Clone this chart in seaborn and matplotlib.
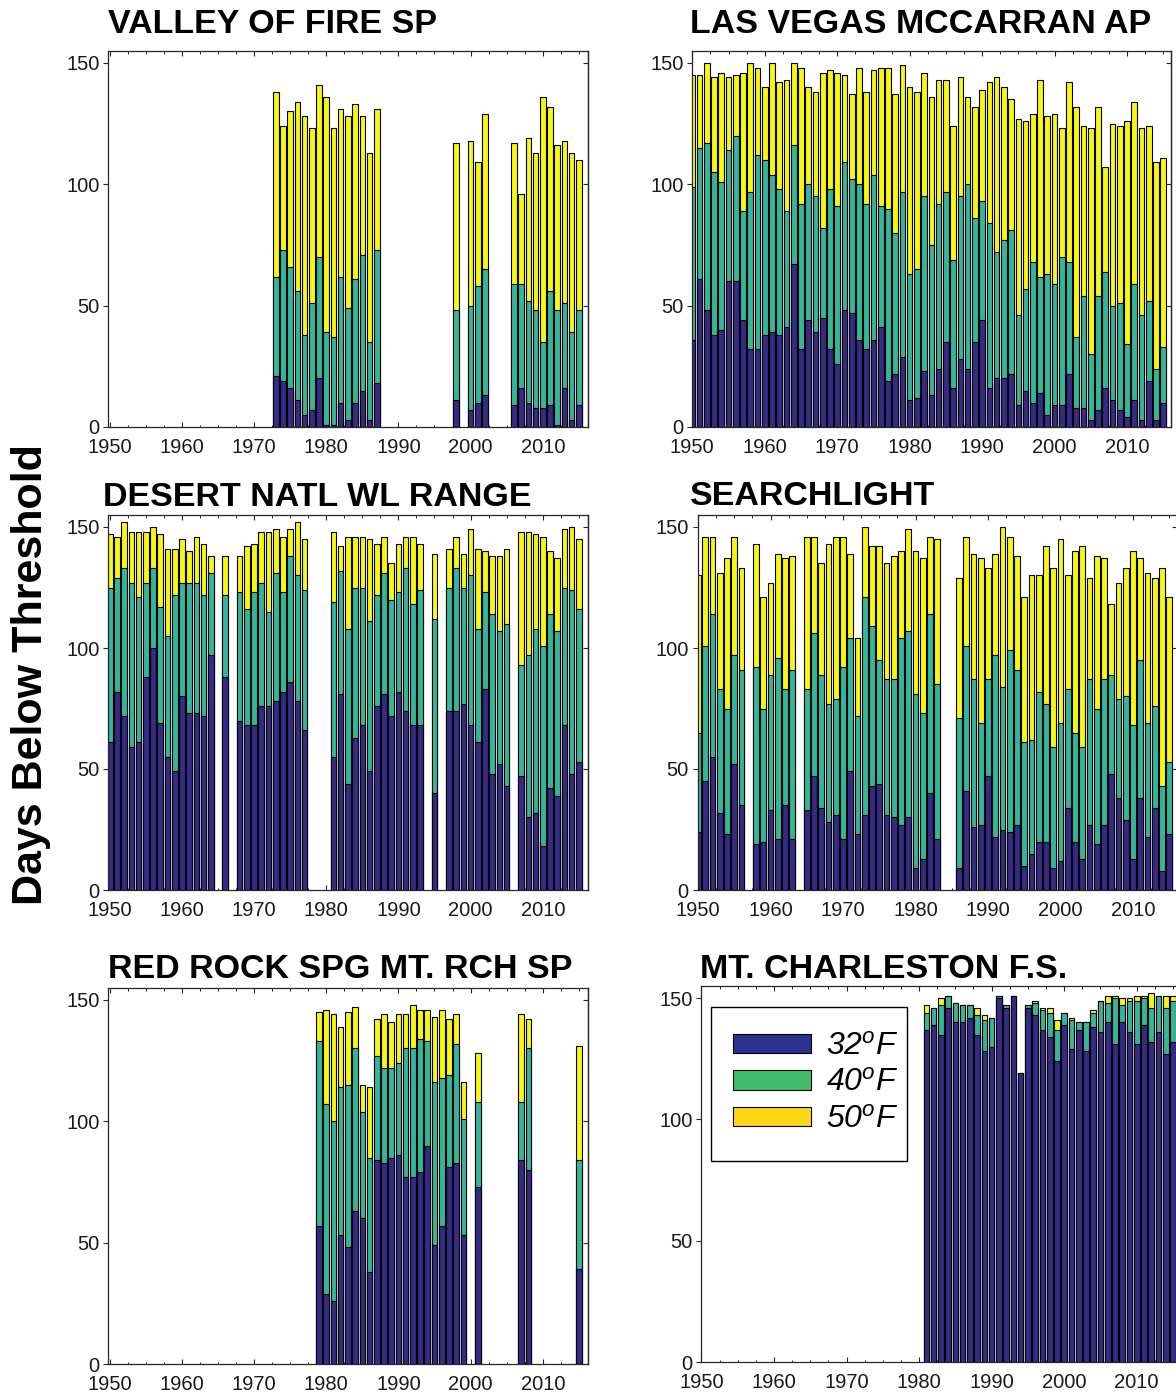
import matplotlib
matplotlib.use('Agg')
import matplotlib.pyplot as plt
import seaborn as sns
from matplotlib.patches import Patch, Rectangle
from matplotlib.ticker import MultipleLocator, FixedLocator

# ---------------- DATA (days below threshold) ----------------
# Valley of Fire SP
vf_years = list(range(1973, 1988)) + [1998, 2000, 2001, 2002] + list(range(2006, 2016))
vf_50 = [138, 124, 130, 134, 128, 123, 141, 136, 123, 131, 128, 133, 128, 113, 131,
         117, 118, 109, 129,
         117, 96, 119, 113, 136, 132, 116, 118, 113, 110]
vf_40 = [62, 73, 66, 56, 38, 51, 70, 39, 37, 62, 49, 61, 71, 35, 73,
         48, 50, 58, 65,
         59, 59, 52, 48, 35, 56, 48, 51, 39, 48]
vf_32 = [21, 19, 16, 11, 5, 7, 20, 1, 1, 10, 3, 10, 15, 3, 18,
         11, 7, 10, 13,
         9, 16, 10, 8, 8, 9, 1, 16, 3, 9]

# Las Vegas McCarran AP
lv_years = list(range(1950, 2016))
lv_50 = [145, 145, 150, 144, 146, 144, 145, 146, 150, 148,
         140, 150, 142, 143, 150, 148, 140, 138, 146, 147,
         146, 145, 137, 148, 138, 147, 148, 148, 137, 149,
         140, 138, 146, 136, 143, 143, 124, 144, 136, 132,
         139, 142, 144, 140, 135, 127, 126, 129, 143, 128,
         129, 123, 142, 132, 124, 123, 132, 107, 125, 124,
         126, 134, 123, 124, 109, 111]
lv_40 = [99, 115, 117, 105, 101, 114, 120, 89, 97, 112,
         110, 104, 98, 89, 116, 92, 100, 95, 82, 98,
         91, 109, 102, 100, 92, 104, 91, 90, 80, 97,
         63, 65, 95, 75, 92, 97, 69, 95, 100, 86,
         93, 84, 72, 77, 81, 46, 57, 68, 62, 63,
         59, 70, 68, 37, 54, 30, 54, 64, 50, 51,
         34, 59, 46, 52, 24, 33]
lv_32 = [36, 61, 48, 38, 40, 60, 60, 44, 32, 32,
         38, 39, 38, 41, 67, 32, 44, 39, 45, 32,
         26, 48, 47, 36, 32, 36, 41, 19, 22, 29,
         11, 12, 23, 13, 24, 35, 16, 28, 24, 35,
         44, 16, 20, 20, 22, 9, 15, 10, 14, 5,
         9, 9, 22, 8, 8, 3, 7, 16, 11, 7,
         4, 11, 3, 19, 3, 10]

# Desert Natl WL Range
dn_years = (list(range(1950, 1965)) + [1966] + list(range(1968, 1978)) +
            list(range(1981, 1994)) + [1995] + list(range(1997, 2006)) + list(range(2007, 2016)))
dn_50 = [147, 146, 152, 148, 148, 148, 150, 147, 141, 141, 145, 140, 146, 143, 138,
         138,
         138, 142, 143, 148, 148, 149, 146, 149, 152, 145,
         148, 142, 146, 146, 146, 145, 143, 146, 135, 143, 146, 146, 143,
         139,
         141, 146, 139, 149, 141, 140, 138, 138, 141,
         148, 148, 147, 146, 140, 137, 149, 150, 145]
dn_40 = [125, 129, 133, 127, 121, 127, 133, 117, 105, 122, 127, 127, 127, 122, 131,
         122,
         123, 116, 123, 127, 115, 131, 123, 138, 130, 124,
         119, 132, 108, 125, 125, 111, 122, 131, 120, 123, 133, 118, 124,
         112,
         125, 133, 125, 130, 108, 123, 114, 107, 110,
         93, 97, 108, 101, 114, 107, 125, 124, 116]
dn_32 = [61, 82, 72, 59, 61, 88, 100, 69, 55, 49, 80, 73, 73, 72, 97,
         88,
         70, 68, 68, 76, 76, 78, 82, 86, 78, 66,
         55, 81, 44, 63, 68, 49, 76, 81, 72, 82, 74, 68, 68,
         40,
         74, 74, 77, 68, 61, 83, 48, 52, 43,
         47, 30, 32, 18, 42, 39, 68, 48, 53]

# Searchlight
sl_years = (list(range(1950, 1957)) + list(range(1958, 1964)) +
            list(range(1965, 1984)) + list(range(1986, 2016)))
sl_50 = [130, 146, 146, 131, 137, 146, 133,
         143, 121, 127, 139, 137, 138,
         146, 146, 135, 143, 146, 146, 139, 104, 150, 142, 142, 135, 138, 140, 149, 140, 137, 146, 145,
         129, 146, 139, 137, 133, 139, 150, 146, 138, 121, 130, 130, 142, 133, 145,
         130, 140, 142, 129, 138, 137, 118, 127, 133, 140, 137, 131, 129, 133, 121]
sl_40 = [65, 101, 114, 83, 75, 97, 91,
         92, 75, 89, 96, 83, 91,
         83, 106, 89, 77, 79, 92, 104, 72, 121, 109, 95, 87, 87, 104, 107, 81, 73, 114, 85,
         71, 101, 87, 69, 87, 97, 84, 99, 91, 61, 62, 82, 77, 59, 69,
         83, 65, 59, 87, 75, 87, 89, 79, 80, 68, 95, 69, 76, 43, 53]
sl_32 = [24, 45, 55, 32, 23, 52, 35,
         19, 20, 33, 21, 35, 21,
         33, 47, 34, 28, 31, 21, 49, 23, 31, 43, 44, 31, 30, 27, 30, 9, 13, 40, 21,
         9, 41, 26, 27, 47, 22, 25, 24, 27, 10, 15, 20, 20, 9, 12,
         34, 20, 13, 27, 19, 27, 48, 38, 29, 13, 38, 22, 34, 8, 23]

# Red Rock Spg Mt. Rch SP
rr_years = list(range(1979, 2000)) + [2001, 2007, 2008, 2015]
rr_50 = [145, 146, 144, 139, 145, 147, 115, 114, 142, 144, 141, 144, 144, 148, 146, 146,
         143, 146, 142, 144, 116, 128, 144, 142, 131]
rr_40 = [133, 107, 100, 114, 115, 130, 104, 85, 127, 122, 122, 124, 130, 130, 134, 133,
         116, 118, 119, 132, 101, 108, 108, 130, 84]
rr_32 = [57, 29, 26, 53, 48, 63, 60, 38, 84, 83, 85, 86, 77, 77, 79, 90,
         49, 57, 81, 83, 53, 73, 84, 80, 39]

# Mt. Charleston F.S.
mc_years = list(range(1981, 2016))
mc_50 = [147, 146, 150, 151, 148, 147, 147, 146, 143, 142,
         151, 147, 151, 119, 147, 149, 146, 146, 141, 144,
         142, 140, 140, 145, 149, 151, 151, 150, 150, 151,
         151, 152, 151, 151, 151]
mc_40 = [144, 146, 147, 151, 148, 147, 147, 143, 141, 142,
         151, 147, 151, 119, 147, 148, 145, 144, 137, 144,
         141, 140, 140, 144, 149, 148, 150, 147, 149, 149,
         150, 146, 151, 146, 149]
mc_32 = [137, 139, 135, 146, 140, 140, 142, 135, 128, 130,
         150, 146, 151, 119, 146, 143, 137, 134, 124, 139,
         129, 137, 128, 138, 136, 140, 131, 140, 136, 131,
         139, 132, 136, 127, 132]

titles = ["VALLEY OF FIRE SP", "LAS VEGAS MCCARRAN AP", "DESERT NATL WL RANGE",
          "SEARCHLIGHT", "RED ROCK SPG MT. RCH SP", "MT. CHARLESTON F.S."]
legend_labels = [r"32$^{o}$F", r"40$^{o}$F", r"50$^{o}$F"]
y_label = "Days Below Threshold"
x_ticks = [1950, 1960, 1970, 1980, 1990, 2000, 2010]
y_ticks = [0, 50, 100, 150]

# ---------------- STYLE ----------------
sns.set_theme(style="white")
plt.rcParams['font.family'] = ['Liberation Sans', 'DejaVu Sans']
plt.rcParams['mathtext.fontset'] = 'custom'
plt.rcParams['mathtext.rm'] = 'Liberation Sans:italic'
plt.rcParams['mathtext.it'] = 'Liberation Sans:italic'

C32, C40, C50 = '#352a87', '#33b69a', '#f8f80f'
L32, L40, L50 = '#2e3191', '#3fbc6c', '#fcd817'
AXC = '#262626'

W, H = 1176, 1397
fig = plt.figure(figsize=(W / 100, H / 100), dpi=100)

# (data, left px, right px, top px, bottom px, xlim, title x px, title baseline px)
panels = [
    ((vf_years, vf_32, vf_40, vf_50), 108.3, 588, 50.8, 427, (1949.8, 2016.27), 108, 33),
    ((lv_years, lv_32, lv_40, lv_50), 692.3, 1171, 50.8, 427, (1950.0, 2016.07), 690, 33),
    ((dn_years, dn_32, dn_40, dn_50), 108.3, 588, 514.9, 890, (1949.8, 2016.27), 103, 506),
    ((sl_years, sl_32, sl_40, sl_50), 697.5, 1177, 514.9, 890, (1949.93, 2016.07), 690, 505),
    ((rr_years, rr_32, rr_40, rr_50), 108.3, 588, 987.8, 1364, (1949.8, 2016.27), 108, 978),
    ((mc_years, mc_32, mc_40, mc_50), 701.2, 1181, 986, 1362, (1949.97, 2016.1), 700, 978),
]

axes = []
for i, (data, l, r, t, b, xl, tx, ty) in enumerate(panels):
    yrs, d32, d40, d50 = data
    ax = fig.add_axes([l / W, 1 - b / H, (r - l) / W, (b - t) / H])
    for vals, col in ((d50, C50), (d40, C40), (d32, C32)):
        sns.barplot(x=yrs, y=vals, native_scale=True, orient='x', color=col,
                    saturation=1, width=0.78, edgecolor='black', linewidth=0.8,
                    errorbar=None, ax=ax)
    ax.set_xlim(*xl)
    ax.set_ylim(0, 155)
    ax.set_xlabel('')
    ax.set_ylabel('')
    ax.xaxis.set_major_locator(FixedLocator(x_ticks))
    ax.xaxis.set_minor_locator(MultipleLocator(2.5))
    ax.set_xticklabels([str(v) for v in x_ticks])
    ax.set_yticks(y_ticks)
    ax.tick_params(axis='x', which='both', direction='in', top=True, bottom=True,
                   color=AXC, labelsize=14.5, labelcolor='#1a1a1a', pad=8)
    ax.tick_params(axis='x', which='major', length=3.3, width=0.8)
    ax.tick_params(axis='x', which='minor', length=1.8, width=0.7)
    ax.tick_params(axis='y', which='major', direction='out', left=True, right=False,
                   length=3.3, width=0.8, color=AXC, labelsize=14.5,
                   labelcolor='#1a1a1a', pad=3)
    sec = ax.secondary_yaxis('right')
    sec.set_yticks(y_ticks)
    sec.tick_params(direction='in', length=3.3, width=0.8, color=AXC, labelright=False)
    sec.spines['right'].set_color(AXC)
    sec.spines['right'].set_linewidth(0.9)
    for s in ax.spines.values():
        s.set_color(AXC)
        s.set_linewidth(0.9)
        s.set_visible(True)
    fig.text(tx / W, 1 - ty / H, titles[i], ha='left', va='baseline',
             fontsize=24.5, fontweight='bold', color='black')
    axes.append(ax)

fig.text(31 / W, 1 - 675 / H, y_label, rotation=90, ha='center', va='center',
         fontsize=31, fontweight='bold', color='black')

# legend in the Mt. Charleston panel
ax6 = axes[5]
frame = Rectangle((711 / W, 1 - 1161 / H), 196 / W, 154 / H,
                  transform=fig.transFigure, fill=True, facecolor='white',
                  edgecolor='black', linewidth=1.0, zorder=4, clip_on=False)
ax6.add_artist(frame)
handles = [Patch(facecolor=c, edgecolor='black', linewidth=0.8, label=lab)
           for c, lab in zip((L32, L40, L50), legend_labels)]
leg = ax6.legend(handles=handles, loc='upper left',
                 bbox_to_anchor=(733 / W, 1 - 1032 / H), bbox_transform=fig.transFigure,
                 borderaxespad=0, borderpad=0, prop={'style': 'italic', 'size': 23},
                 frameon=False, handlelength=2.45, handleheight=0.56,
                 handletextpad=0.45, labelspacing=0.2, labelcolor='black')
leg.set_zorder(6)

fig.savefig('out.png', dpi=100)
